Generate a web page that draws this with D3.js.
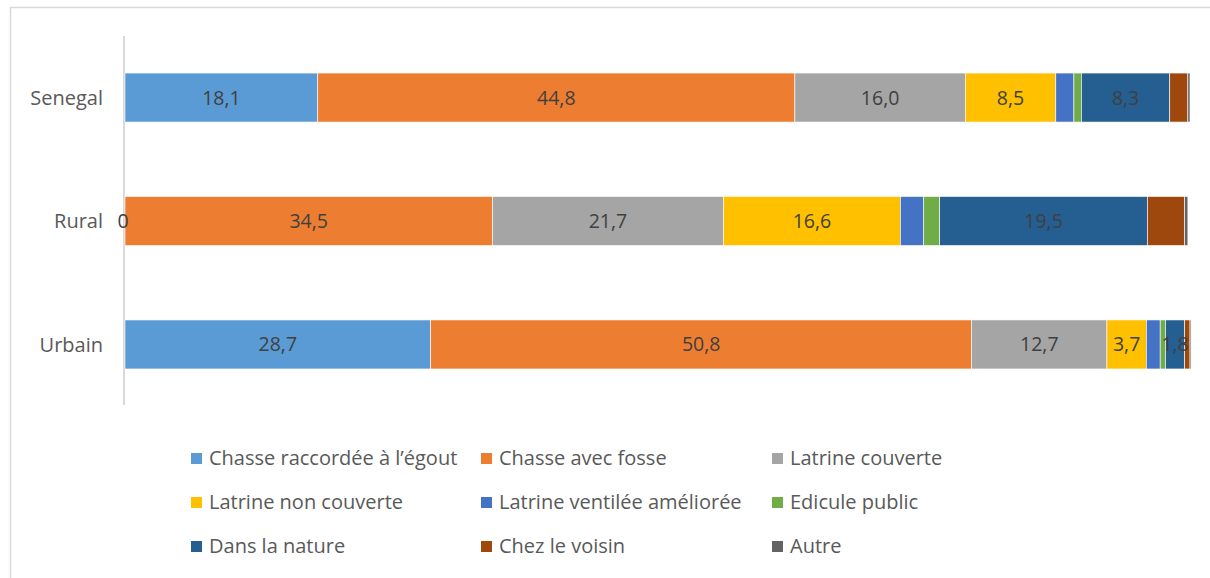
<!DOCTYPE html>
<html>
<head>
<meta charset="utf-8">
<script src="https://cdn.jsdelivr.net/npm/d3@7"></script>
<style>
  body { margin: 0; background: #fff; }
  text { font-family: "Open Sans", sans-serif; }
</style>
</head>
<body>
<div id="chart"></div>
<script>
var width = 1210,
    height = 578;

// categories (top to bottom)
var categories = ["Senegal", "Rural", "Urbain"];

var seriesNames = [
    "Chasse raccordée à l’égout", "Chasse avec fosse", "Latrine couverte",
    "Latrine non couverte", "Latrine ventilée améliorée", "Edicule public",
    "Dans la nature", "Chez le voisin", "Autre"
];

var seriesColors = ["#5B9BD5", "#ED7D31", "#A5A5A5", "#FFC000", "#4472C4",
    "#70AD47", "#255E91", "#9E480E", "#636363"];

// values per category, in series order
var senegalValues = [18.1, 44.8, 16.0, 8.5, 1.7, 0.7, 8.3, 1.7, 0.2];
var ruralValues   = [0, 34.5, 21.7, 16.6, 2.2, 1.5, 19.5, 3.5, 0.3];
var urbainValues  = [28.7, 50.8, 12.7, 3.7, 1.3, 0.5, 1.8, 0.5, 0.1];

// series whose values are printed on the bars
var labelledSeries = [0, 1, 2, 3, 6];

var values = [senegalValues, ruralValues, urbainValues];

var svg = d3.select("#chart").append("svg")
    .attr("width", width)
    .attr("height", height);

// outer frame
svg.append("rect")
    .attr("x", 10.5)
    .attr("y", 7.5)
    .attr("width", width + 10)
    .attr("height", height + 10)
    .attr("fill", "none")
    .attr("stroke", "#d9d9d9")
    .attr("stroke-width", 1.5);

var x = d3.scaleLinear().domain([0, 100]).range([125, 1190]);
var y = d3.scaleBand().domain(categories).range([36, 406]).paddingInner(0.603).paddingOuter(0.3);

// vertical axis line (behind the bars)
svg.append("line")
    .attr("x1", 124).attr("x2", 124)
    .attr("y1", 36).attr("y2", 405)
    .attr("stroke", "#d9d9d9")
    .attr("stroke-width", 2);

// stack the data
var rows = categories.map(function(c, i) {
    var r = { cat: c };
    seriesNames.forEach(function(s, j) { r[s] = values[i][j]; });
    return r;
});
var stacked = d3.stack().keys(seriesNames)(rows);

var groups = svg.selectAll(".series")
    .data(stacked)
    .enter().append("g")
    .attr("class", "series")
    .attr("fill", function(d, i) { return seriesColors[i]; });

groups.selectAll("rect")
    .data(function(d) { return d; })
    .enter().append("rect")
    .attr("x", function(d) { return x(d[0]); })
    .attr("y", function(d) { return y(d.data.cat); })
    .attr("width", function(d) { return x(d[1]) - x(d[0]); })
    .attr("height", y.bandwidth())
    .attr("stroke", "#fff")
    .attr("stroke-width", 0.6);

// value labels (drawn on top of all bars)
var labelLayer = svg.append("g");
stacked.forEach(function(s, i) {
    if (labelledSeries.indexOf(i) < 0) return;
    labelLayer.selectAll(".val-" + i)
        .data(s)
        .enter().append("text")
        .attr("class", "val-" + i)
        .attr("x", function(d) {
            var v = d[1] - d[0];
            return v === 0 ? x(d[0]) - 2 : (x(d[0]) + x(d[1])) / 2;
        })
        .attr("y", function(d) { return y(d.data.cat) + y.bandwidth() / 2; })
        .attr("dy", "0.36em")
        .attr("text-anchor", "middle")
        .attr("fill", "#404040")
        .style("font-size", "19.5px")
        .text(function(d) { return d3.format(".1f")(d[1] - d[0]).replace(".", ",").replace(/^0,0$/, "0"); });
});

// category labels
svg.selectAll(".cat")
    .data(categories)
    .enter().append("text")
    .attr("class", "cat")
    .attr("x", 103)
    .attr("y", function(d) { return y(d) + y.bandwidth() / 2; })
    .attr("dy", "0.36em")
    .attr("text-anchor", "end")
    .attr("fill", "#595959")
    .style("font-size", "20px")
    .text(function(d) { return d; });

// legend
var legendCols = [191, 481, 772],
    legendRows = [458, 502, 546];

var legend = svg.selectAll(".legend")
    .data(seriesNames)
    .enter().append("g")
    .attr("class", "legend")
    .attr("transform", function(d, i) {
        return "translate(" + legendCols[i % 3] + "," + legendRows[Math.floor(i / 3)] + ")";
    });

legend.append("rect")
    .attr("x", 0).attr("y", -5)
    .attr("width", 11).attr("height", 11)
    .attr("fill", function(d, i) { return seriesColors[i]; });

legend.append("text")
    .attr("x", 18)
    .attr("dy", "0.36em")
    .attr("fill", "#595959")
    .style("font-size", "20px")
    .text(function(d) { return d; });
</script>
</body>
</html>
